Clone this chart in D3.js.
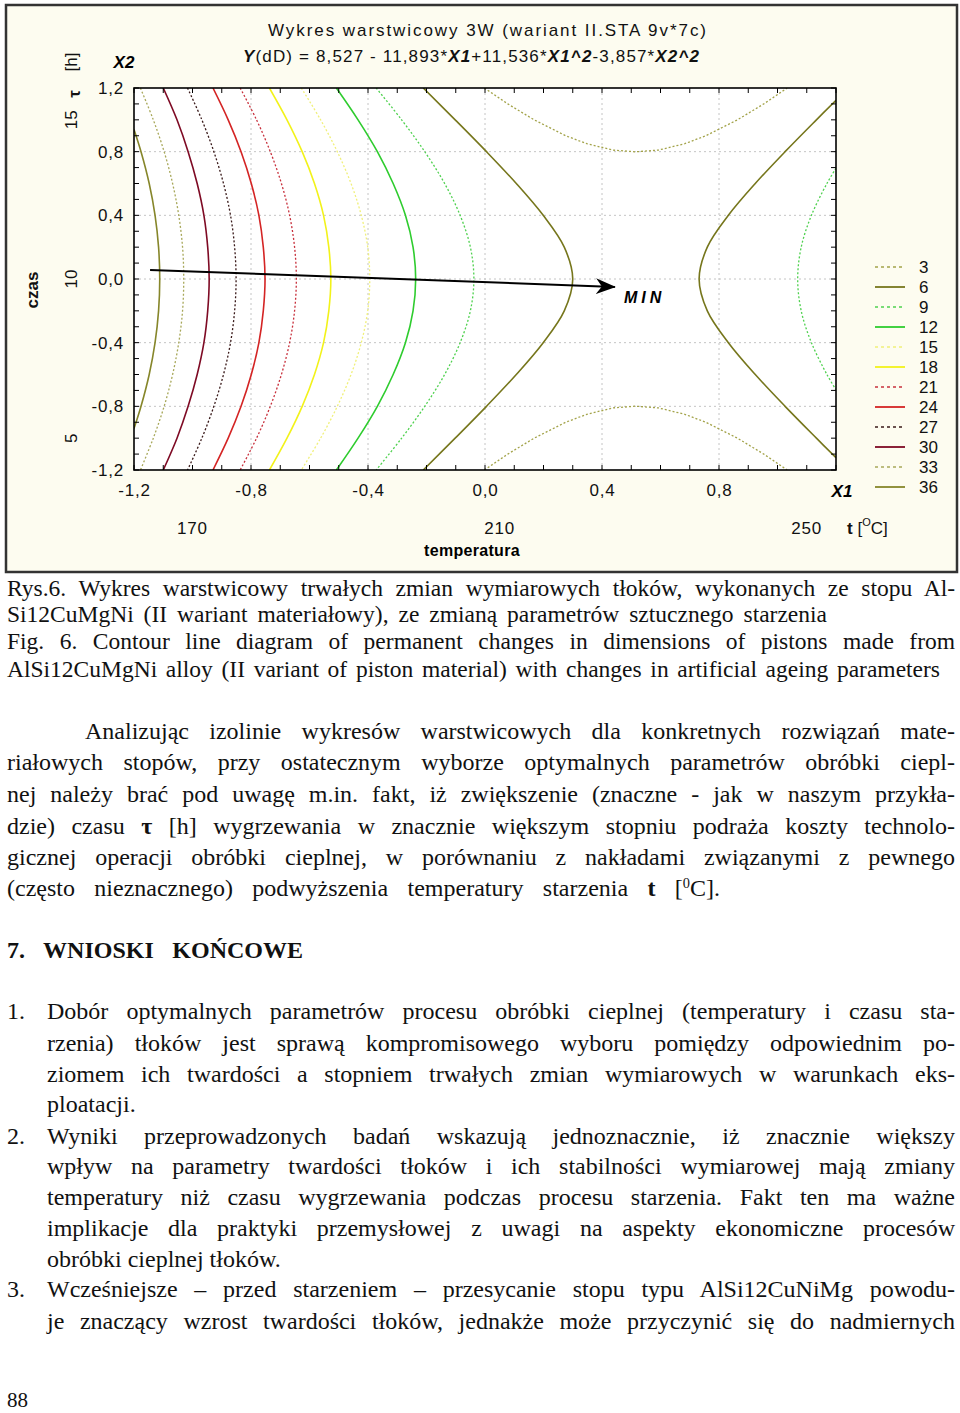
<!DOCTYPE html>
<html><head><meta charset="utf-8">
<script src="https://cdn.jsdelivr.net/npm/d3@7"></script>
<style>html,body{margin:0;padding:0;background:#fff;} svg{display:block;}</style>
</head><body><div id="chart"></div>
<script>
// ---------------- DATA ----------------
const chartTitle = "Wykres warstwicowy 3W (wariant II.STA 9v*7c)";
const xTicks = [-1.2, -0.8, -0.4, 0, 0.4, 0.8];
const yTicks = [1.2, 0.8, 0.4, 0, -0.4, -0.8, -1.2];
const gridValues = [-0.8, -0.4, 0, 0.4, 0.8];
const tempTicks = [170, 210, 250];
const timeTicks = [5, 10, 15];
const levels = [3, 6, 9, 12, 15, 18, 21, 24, 27, 30, 33, 36];
const levelColors = ["#a3a34a", "#76761c", "#4fd14f", "#2ecc2e", "#f0f07a", "#f2f21a",
                     "#c8303c", "#d42424", "#3a1a1a", "#7e0a24", "#a8a85a", "#86862a"];
const levelDashed = [true, false, true, false, true, false, true, false, true, false, true, false];

// contour lines, points [X1, X2]
const contour36 = [[-1.2,0.94],[-1.176,0.8],[-1.148,0.6],[-1.128,0.4],[-1.116,0.2],[-1.112,0],[-1.116,-0.2],[-1.128,-0.4],[-1.148,-0.6],[-1.176,-0.8],[-1.2,-0.94]];
const contour33 = [[-1.178,1.2],[-1.134,1.0],[-1.097,0.8],[-1.068,0.6],[-1.047,0.4],[-1.034,0.2],[-1.030,0],[-1.034,-0.2],[-1.047,-0.4],[-1.068,-0.6],[-1.097,-0.8],[-1.134,-1.0],[-1.178,-1.2]];
const contour30 = [[-1.100,1.2],[-1.053,1.0],[-1.015,0.8],[-0.984,0.6],[-0.961,0.4],[-0.948,0.2],[-0.943,0],[-0.948,-0.2],[-0.961,-0.4],[-0.984,-0.6],[-1.015,-0.8],[-1.053,-1.0],[-1.100,-1.2]];
const contour27 = [[-1.017,1.2],[-0.968,1.0],[-0.927,0.8],[-0.894,0.6],[-0.870,0.4],[-0.856,0.2],[-0.851,0],[-0.856,-0.2],[-0.870,-0.4],[-0.894,-0.6],[-0.927,-0.8],[-0.968,-1.0],[-1.017,-1.2]];
const contour24 = [[-0.930,1.2],[-0.878,1.0],[-0.834,0.8],[-0.799,0.6],[-0.773,0.4],[-0.758,0.2],[-0.752,0],[-0.758,-0.2],[-0.773,-0.4],[-0.799,-0.6],[-0.834,-0.8],[-0.878,-1.0],[-0.930,-1.2]];
const contour21 = [[-0.837,1.2],[-0.781,1.0],[-0.734,0.8],[-0.696,0.6],[-0.668,0.4],[-0.651,0.2],[-0.645,0],[-0.651,-0.2],[-0.668,-0.4],[-0.696,-0.6],[-0.734,-0.8],[-0.781,-1.0],[-0.837,-1.2]];
const contour18 = [[-0.737,1.2],[-0.677,1.0],[-0.625,0.8],[-0.583,0.6],[-0.552,0.4],[-0.534,0.2],[-0.527,0],[-0.534,-0.2],[-0.552,-0.4],[-0.583,-0.6],[-0.625,-0.8],[-0.677,-1.0],[-0.737,-1.2]];
const contour15 = [[-0.628,1.2],[-0.562,1.0],[-0.505,0.8],[-0.458,0.6],[-0.423,0.4],[-0.401,0.2],[-0.394,0],[-0.401,-0.2],[-0.423,-0.4],[-0.458,-0.6],[-0.505,-0.8],[-0.562,-1.0],[-0.628,-1.2]];
const contour12 = [[-0.508,1.2],[-0.434,1.0],[-0.368,0.8],[-0.314,0.6],[-0.272,0.4],[-0.246,0.2],[-0.237,0],[-0.246,-0.2],[-0.272,-0.4],[-0.314,-0.6],[-0.368,-0.8],[-0.434,-1.0],[-0.508,-1.2]];
const contour9L = [[-0.372,1.2],[-0.285,1.0],[-0.206,0.8],[-0.138,0.6],[-0.085,0.4],[-0.050,0.2],[-0.038,0],[-0.050,-0.2],[-0.085,-0.4],[-0.138,-0.6],[-0.206,-0.8],[-0.285,-1.0],[-0.372,-1.2]];
const contour9R = [[1.2,0.696],[1.169,0.6],[1.116,0.4],[1.081,0.2],[1.069,0],[1.081,-0.2],[1.116,-0.4],[1.169,-0.6],[1.2,-0.696]];
const contour6L = [[-0.211,1.2],[-0.102,1.0],[0.005,0.8],[0.107,0.6],[0.199,0.4],[0.271,0.2],[0.300,0],[0.271,-0.2],[0.199,-0.4],[0.107,-0.6],[0.005,-0.8],[-0.102,-1.0],[-0.211,-1.2]];
const contour6R = [[1.2,1.123],[1.133,1.0],[1.026,0.8],[0.924,0.6],[0.832,0.4],[0.760,0.2],[0.732,0],[0.760,-0.2],[0.832,-0.4],[0.924,-0.6],[1.026,-0.8],[1.133,-1.0],[1.2,-1.123]];
const contour3T = [[-0.002,1.2],[0.078,1.1],[0.168,1.0],[0.276,0.9],[0.348,0.85],[0.438,0.81],[0.515,0.799],[0.593,0.81],[0.683,0.85],[0.755,0.9],[0.863,1.0],[0.953,1.1],[1.033,1.2]];
const contour3B = [[-0.002,-1.2],[0.078,-1.1],[0.168,-1.0],[0.276,-0.9],[0.348,-0.85],[0.438,-0.81],[0.515,-0.799],[0.593,-0.81],[0.683,-0.85],[0.755,-0.9],[0.863,-1.0],[0.953,-1.1],[1.033,-1.2]];
const minArrow = [[-1.145, 0.057], [0.444, -0.05]];

// ---------------- TEXT ----------------
const textLines = [
  {x:7, y:596, size:23.5, w:948, parts:[["Rys.6. Wykres warstwicowy trwałych zmian wymiarowych tłoków, wykonanych ze stopu Al-"]]},
  {x:7, y:622, size:23.5, w:820, parts:[["Si12CuMgNi (II wariant materiałowy), ze zmianą parametrów sztucznego starzenia"]]},
  {x:7, y:649, size:23.5, w:948, parts:[["Fig. 6. Contour line diagram of permanent changes in dimensions of pistons made from"]]},
  {x:7, y:677, size:23.5, w:933, parts:[["AlSi12CuMgNi alloy (II variant of piston material) with changes in artificial ageing parameters"]]},
  {x:85, y:739, size:24, w:870, parts:[["Analizując izolinie wykresów warstwicowych dla konkretnych rozwiązań mate-"]]},
  {x:7, y:770, size:24, w:948, parts:[["riałowych stopów, przy ostatecznym wyborze optymalnych parametrów obróbki ciepl-"]]},
  {x:7, y:802, size:24, w:948, parts:[["nej należy brać pod uwagę m.in. fakt, iż zwiększenie (znaczne - jak w naszym przykła-"]]},
  {x:7, y:834, size:24, w:948, parts:[["dzie) czasu "],["τ","b"],[" [h] wygrzewania w znacznie większym stopniu podraża koszty technolo-"]]},
  {x:7, y:865, size:24, w:948, parts:[["gicznej operacji obróbki cieplnej, w porównaniu z nakładami związanymi z pewnego"]]},
  {x:7, y:896, size:24, w:713, parts:[["(często nieznacznego) podwyższenia temperatury starzenia "],["t","b"],[" ["],["0","sup"],["C]."]]},
  {x:7, y:958, size:24, w:296, bold:true, parts:[["7. WNIOSKI KOŃCOWE"]]},
  {x:7, y:1019, size:24, parts:[["1."]]},
  {x:47, y:1019, size:24, w:908, parts:[["Dobór optymalnych parametrów procesu obróbki cieplnej (temperatury i czasu sta-"]]},
  {x:47, y:1051, size:24, w:908, parts:[["rzenia) tłoków jest sprawą kompromisowego wyboru pomiędzy odpowiednim po-"]]},
  {x:47, y:1082, size:24, w:908, parts:[["ziomem ich twardości a stopniem trwałych zmian wymiarowych w warunkach eks-"]]},
  {x:47, y:1112, size:24, parts:[["ploatacji."]]},
  {x:7, y:1144, size:24, parts:[["2."]]},
  {x:47, y:1144, size:24, w:908, parts:[["Wyniki przeprowadzonych badań wskazują jednoznacznie, iż znacznie większy"]]},
  {x:47, y:1174, size:24, w:908, parts:[["wpływ na parametry twardości tłoków i ich stabilności wymiarowej mają zmiany"]]},
  {x:47, y:1205, size:24, w:908, parts:[["temperatury niż czasu wygrzewania podczas procesu starzenia. Fakt ten ma ważne"]]},
  {x:47, y:1236, size:24, w:908, parts:[["implikacje dla praktyki przemysłowej z uwagi na aspekty ekonomiczne procesów"]]},
  {x:47, y:1267, size:24, parts:[["obróbki cieplnej tłoków."]]},
  {x:7, y:1297, size:24, parts:[["3."]]},
  {x:47, y:1297, size:24, w:908, parts:[["Wcześniejsze – przed starzeniem – przesycanie stopu typu AlSi12CuNiMg powodu-"]]},
  {x:47, y:1329, size:24, w:908, parts:[["je znaczący wzrost twardości tłoków, jednakże może przyczynić się do nadmiernych"]]},
  {x:7, y:1407, size:21, parts:[["88"]]}
];

// ---------------- DRAW ----------------
const W = 960, H = 1413;
const svg = d3.select("#chart").append("svg").attr("width", W).attr("height", H);
const sans = "'Liberation Sans', Arial, sans-serif";
const serif = "'Liberation Serif', 'Times New Roman', serif";

// panel
svg.append("rect").attr("x", 6).attr("y", 5).attr("width", 951).attr("height", 567)
  .attr("fill", "#fdfcf0").attr("stroke", "#333").attr("stroke-width", 2.5);

const x = d3.scaleLinear().domain([-1.2, 1.2]).range([134, 836]);
const y = d3.scaleLinear().domain([-1.2, 1.2]).range([470, 88]);
const tempScale = d3.scaleLinear().domain([170, 250]).range([-1.0, 1.1]);
const timeScale = d3.scaleLinear().domain([5, 15]).range([-1, 1]);
const loc = d3.formatLocale({decimal: ",", thousands: " ", grouping: [3], currency: ["", ""], minus: "-"});
const fmt = loc.format(".1f");

// plot background
svg.append("rect").attr("x", x(-1.2)).attr("y", y(1.2)).attr("width", x(1.2) - x(-1.2)).attr("height", y(-1.2) - y(1.2)).attr("fill", "#fff");

// grid
const grid = svg.append("g").attr("stroke", "#c4c4c4").attr("stroke-width", 1).attr("stroke-dasharray", "2,3");
grid.selectAll("line.v").data(gridValues).join("line").attr("x1", d => x(d)).attr("x2", d => x(d)).attr("y1", y(1.2)).attr("y2", y(-1.2));
grid.selectAll("line.h").data(gridValues).join("line").attr("y1", d => y(d)).attr("y2", d => y(d)).attr("x1", x(-1.2)).attr("x2", x(1.2));

// clip
svg.append("clipPath").attr("id", "plotclip").append("rect")
  .attr("x", x(-1.2)).attr("y", y(1.2)).attr("width", x(1.2) - x(-1.2)).attr("height", y(-1.2) - y(1.2));

const contours = [
  {level: 36, pts: contour36}, {level: 33, pts: contour33}, {level: 30, pts: contour30},
  {level: 27, pts: contour27}, {level: 24, pts: contour24}, {level: 21, pts: contour21},
  {level: 18, pts: contour18}, {level: 15, pts: contour15}, {level: 12, pts: contour12},
  {level: 9, pts: contour9L}, {level: 9, pts: contour9R},
  {level: 6, pts: contour6L}, {level: 6, pts: contour6R},
  {level: 3, pts: contour3T, linear: true}, {level: 3, pts: contour3B, linear: true}
];
const lineSmooth = d3.line().x(d => x(d[0])).y(d => y(d[1])).curve(d3.curveCatmullRom);
const lineLin = d3.line().x(d => x(d[0])).y(d => y(d[1]));
const cg = svg.append("g").attr("clip-path", "url(#plotclip)");
contours.forEach(c => {
  const i = levels.indexOf(c.level);
  cg.append("path").attr("d", (c.linear ? lineLin : lineSmooth)(c.pts)).attr("fill", "none")
    .attr("stroke", levelColors[i]).attr("stroke-width", levelDashed[i] ? 1.3 : 1.6)
    .attr("stroke-dasharray", levelDashed[i] ? "2,2" : null);
});

// minor ticks (inside), all sides
const minorX = x.ticks(24), minorY = y.ticks(24);
const tk = svg.append("g").attr("stroke", "#000").attr("stroke-width", 1);
tk.selectAll("line.b").data(minorX).join("line").attr("x1", d => x(d)).attr("x2", d => x(d)).attr("y1", y(-1.2)).attr("y2", y(-1.2) - 5);
tk.selectAll("line.t").data(minorX).join("line").attr("x1", d => x(d)).attr("x2", d => x(d)).attr("y1", y(1.2)).attr("y2", y(1.2) + 5);
tk.selectAll("line.l").data(minorY).join("line").attr("y1", d => y(d)).attr("y2", d => y(d)).attr("x1", x(-1.2)).attr("x2", x(-1.2) + 5);
tk.selectAll("line.r").data(minorY).join("line").attr("y1", d => y(d)).attr("y2", d => y(d)).attr("x1", x(1.2)).attr("x2", x(1.2) - 5);

// frame
svg.append("rect").attr("x", x(-1.2)).attr("y", y(1.2)).attr("width", x(1.2) - x(-1.2)).attr("height", y(-1.2) - y(1.2))
  .attr("fill", "none").attr("stroke", "#000").attr("stroke-width", 1.6);

// axes labels
const xAxis = d3.axisBottom(x).tickValues(xTicks).tickFormat(fmt).tickSize(0).tickPadding(14);
const gx = svg.append("g").attr("transform", `translate(0,${y(-1.2)})`).call(xAxis);
const yAxis = d3.axisLeft(y).tickValues(yTicks).tickFormat(fmt).tickSize(0).tickPadding(10);
const gy = svg.append("g").attr("transform", `translate(${x(-1.2)},0)`).call(yAxis);
[gx, gy].forEach(g => {
  g.select(".domain").remove();
  g.selectAll("text").attr("font-family", sans).attr("font-size", 17).attr("fill", "#111").attr("letter-spacing", 0.8);
});

svg.append("text").attr("x", 842).attr("y", 497).attr("text-anchor", "middle").attr("font-family", sans)
  .attr("font-size", 17).attr("font-weight", "bold").attr("font-style", "italic").text("X1");
svg.append("text").attr("x", 124).attr("y", 68).attr("text-anchor", "middle").attr("font-family", sans)
  .attr("font-size", 17).attr("font-weight", "bold").attr("font-style", "italic").text("X2");

// temperature row
svg.append("g").selectAll("text").data(tempTicks).join("text")
  .attr("x", d => x(tempScale(d))).attr("y", 534).attr("text-anchor", "middle")
  .attr("font-family", sans).attr("font-size", 17).attr("letter-spacing", 0.8).attr("fill", "#111").text(d => d);
const tu = svg.append("text").attr("x", 847).attr("y", 534).attr("font-family", sans).attr("font-size", 17).attr("fill", "#111");
tu.append("tspan").attr("font-weight", "bold").text("t");
tu.append("tspan").text(" [");
tu.append("tspan").attr("font-size", 11).attr("dy", -8).text("O");
tu.append("tspan").attr("dy", 8).text("C]");
svg.append("text").attr("x", 472).attr("y", 556).attr("text-anchor", "middle").attr("font-family", sans)
  .attr("font-size", 16).attr("font-weight", "bold").attr("letter-spacing", 0.3).text("temperatura");

// time labels (rotated)
function rot(tx, ty, txt, opts) {
  const t = svg.append("text").attr("transform", `translate(${tx},${ty}) rotate(-90)`)
    .attr("text-anchor", "middle").attr("dominant-baseline", "central").attr("font-family", sans)
    .attr("font-size", opts.size || 17).attr("fill", "#111").text(txt);
  if (opts.bold) t.attr("font-weight", "bold");
  return t;
}
timeTicks.forEach(d => rot(71, y(timeScale(d)), d, {}));
rot(74, 94, "τ", {bold: true});
rot(71, 62, "[h]", {});
rot(32, 290, "czas", {bold: true, size: 17});

// title
svg.append("text").attr("x", 268).attr("y", 36).attr("font-family", sans).attr("font-size", 17)
  .attr("textLength", 438).attr("lengthAdjust", "spacing").attr("fill", "#111").text(chartTitle);
const eq = svg.append("text").attr("x", 243).attr("y", 62).attr("font-family", sans).attr("font-size", 17)
  .attr("textLength", 456).attr("lengthAdjust", "spacing").attr("fill", "#111");
const eqParts = [["Y", true], ["(dD) = 8,527 - 11,893*", false], ["X1", true], ["+11,536*", false], ["X1^2", true], ["-3,857*", false], ["X2^2", true]];
eqParts.forEach(p => {
  const s = eq.append("tspan").text(p[0]);
  if (p[1]) s.attr("font-weight", "bold").attr("font-style", "italic");
});

// legend
const lg = svg.append("g");
levels.forEach((lv, i) => {
  const ly = 267 + i * 20;
  lg.append("line").attr("x1", 875).attr("x2", 905).attr("y1", ly).attr("y2", ly)
    .attr("stroke", levelColors[i]).attr("stroke-width", levelDashed[i] ? 1.4 : 1.8)
    .attr("stroke-dasharray", levelDashed[i] ? "3,3" : null);
  lg.append("text").attr("x", 919).attr("y", ly + 6).attr("font-family", sans).attr("font-size", 17)
    .attr("fill", "#111").text(lv);
});

// MIN arrow
const defs = svg.append("defs");
defs.append("marker").attr("id", "arrowhead").attr("viewBox", "0 0 20 16").attr("markerWidth", 20).attr("markerHeight", 16)
  .attr("refX", 19).attr("refY", 8).attr("markerUnits", "userSpaceOnUse").attr("orient", "auto")
  .append("path").attr("d", "M0,0 L20,8 L0,16 L6,8 Z").attr("fill", "#000");
svg.append("line").attr("x1", x(minArrow[0][0])).attr("y1", y(minArrow[0][1]))
  .attr("x2", x(minArrow[1][0])).attr("y2", y(minArrow[1][1]))
  .attr("stroke", "#000").attr("stroke-width", 2).attr("marker-end", "url(#arrowhead)");
svg.append("text").attr("x", 624).attr("y", 303).attr("font-family", sans).attr("font-size", 16)
  .attr("font-weight", "bold").attr("font-style", "italic").attr("letter-spacing", 4).text("MIN");

// body text
textLines.forEach(l => {
  const t = svg.append("text").attr("x", l.x).attr("y", l.y).attr("font-family", serif)
    .attr("font-size", l.size).attr("fill", "#111");
  if (l.bold) t.attr("font-weight", "bold");
  l.parts.forEach(p => {
    const ts = t.append("tspan").text(p[0]);
    if (p[1] === "b") ts.attr("font-weight", "bold");
    if (p[1] === "sup") ts.attr("baseline-shift", "super").attr("font-size", l.size * 0.6);
  });
  if (l.w) {
    const w = t.node().getComputedTextLength();
    const n = (l.parts.map(p => p[0]).join("").match(/ /g) || []).length;
    if (n > 0) t.attr("word-spacing", (l.w - w) / n);
  }
});
</script></body></html>
